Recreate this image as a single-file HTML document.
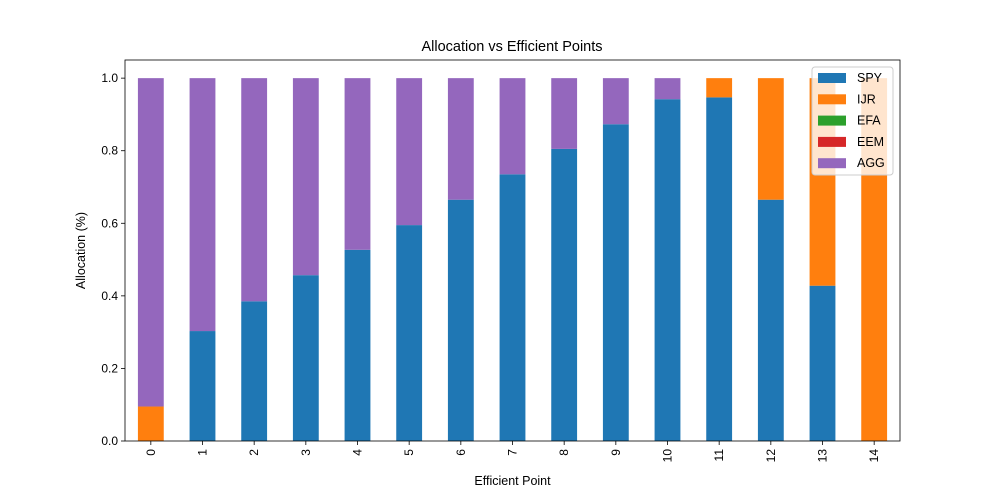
<!DOCTYPE html>
<html><head><meta charset="utf-8"><style>
html,body{margin:0;padding:0;background:#fff;}
svg{display:block;font-family:"Liberation Sans","DejaVu Sans",sans-serif;}
</style></head><body>
<svg id="chart" width="1000" height="496" viewBox="0 0 1000 496">
<rect width="1000" height="496" fill="#fff"/>
<text x="512" y="51" text-anchor="middle" font-size="14.5" fill="#000">Allocation vs Efficient Points</text>
<g id="bars"></g>
<g id="axes"></g>
</svg>
<script>
const categories = [0,1,2,3,4,5,6,7,8,9,10,11,12,13,14];
const seriesNames = ["SPY","IJR","EFA","EEM","AGG"];
const colors = ["#1f77b4","#ff7f0e","#2ca02c","#d62728","#9467bd"];
const spy = [0,0.303,0.385,0.457,0.527,0.595,0.665,0.735,0.805,0.873,0.942,0.947,0.665,0.428,0];
const ijr = [0.095,0,0,0,0,0,0,0,0,0,0,0.053,0.335,0.572,1.0];
const efa = [0,0,0,0,0,0,0,0,0,0,0,0,0,0,0];
const eem = [0,0,0,0,0,0,0,0,0,0,0,0,0,0,0];
const agg = [0.905,0.697,0.615,0.543,0.473,0.405,0.335,0.265,0.195,0.127,0.058,0,0,0,0];
const yTicks = ["0.0","0.2","0.4","0.6","0.8","1.0"];

const NS="http://www.w3.org/2000/svg";
const L=125,R=900,T=60,B=441;
const yMax=1.05;
const xs=i=>L+(i+0.5)*(R-L)/categories.length;
const ys=v=>B-v/yMax*(B-T);
const bw=0.5*(R-L)/categories.length;
function mk(tag,attrs,parent){const e=document.createElementNS(NS,tag);for(const k in attrs)e.setAttribute(k,attrs[k]);parent.appendChild(e);return e;}
const bars=document.getElementById('bars'), axes=document.getElementById('axes');
const series=[spy,ijr,efa,eem,agg];
categories.forEach((c,i)=>{
  let base=0;
  series.forEach((s,k)=>{
    const v=s[i];
    if(v>0){
      const r=mk('rect',{x:xs(i)-bw/2,y:ys(base+v),width:bw,height:ys(base)-ys(base+v),fill:colors[k]},bars);
      
      
    }
    base+=v;
  });
  mk('line',{x1:xs(i),x2:xs(i),y1:B,y2:B+4,stroke:'#000','stroke-width':0.8},axes);
  const t=mk('text',{x:0,y:0,transform:`translate(${xs(i)+4},${B+8}) rotate(-90)`,'text-anchor':'end','font-size':12,fill:'#000'},axes);
  t.textContent=c;
  
  
});
yTicks.forEach(l=>{
  const v=parseFloat(l),y=ys(v);
  mk('line',{x1:L-4,x2:L,y1:y,y2:y,stroke:'#000','stroke-width':0.8},axes);
  const t=mk('text',{x:L-7,y:y+4,'text-anchor':'end','font-size':12,fill:'#000'},axes);
  t.textContent=l;
  
  
});
const frame=mk('rect',{x:L,y:T,width:R-L,height:B-T,fill:'none',stroke:'#000','stroke-width':0.8},axes);


const xt=mk('text',{x:(L+R)/2,y:485,'text-anchor':'middle','font-size':12.5,fill:'#000'},axes);
xt.textContent='Efficient Point';


const yt=mk('text',{x:0,y:0,transform:`translate(85,${(T+B)/2}) rotate(-90)`,'text-anchor':'middle','font-size':12.5,fill:'#000'},axes);
yt.textContent='Allocation (%)';


// legend
const lg=mk('g',{},axes);


mk('rect',{x:812,y:67,width:81,height:108,rx:3,fill:'#fff','fill-opacity':0.8,stroke:'#ccc'},lg);
seriesNames.forEach((n,k)=>{
  const y=77+k*21.3;
  mk('rect',{x:818,y:y-4,width:28,height:10,fill:colors[k]},lg);
  const t=mk('text',{x:857,y:y+5,'font-size':12.5,fill:'#000'},lg);
  t.textContent=n;
  
  
});
</script>
</body></html>
